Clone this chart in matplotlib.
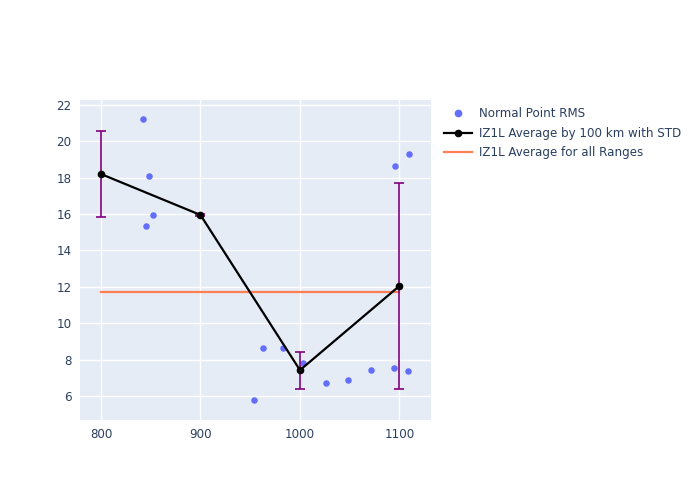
import matplotlib
matplotlib.use("Agg")
import matplotlib.pyplot as plt
from matplotlib.lines import Line2D

# normal point RMS values
pt_range = [842.2, 848.2, 852.3, 845.2, 953.8, 962.8, 982.9, 1003.0, 1026.1,
            1048.2, 1071.4, 1094.5, 1108.5, 1095.5, 1109.5]
pt_rms = [21.23, 18.10, 15.95, 15.35, 5.78, 8.64, 8.64, 7.82, 6.72,
          6.88, 7.43, 7.54, 7.38, 18.65, 19.31]

# averages by 100 km bin
avg_range = [800, 900, 1000, 1100]
avg_rms = [18.2, 15.95, 7.42, 12.05]
avg_std = [2.37, 0.05, 1.02, 5.65]

# overall average
all_range = [800, 1100]
all_avg = 11.72

text_col = "#2a3f5f"
fs = 8.6

fig = plt.figure(figsize=(7, 5), dpi=100)
ax = fig.add_axes([0.1143, 0.16, 0.5014, 0.64])
ax.set_facecolor("#E5ECF6")

ax.scatter(pt_range, pt_rms, s=22, color="#636EFA", linewidths=0, zorder=3)
ax.errorbar(avg_range, avg_rms, yerr=avg_std, fmt="none", ecolor="purple",
            elinewidth=1.2, capsize=3.5, capthick=1.2, zorder=4)
ax.plot(avg_range, avg_rms, color="black", lw=1.6, marker="o", ms=4.5, zorder=5)
ax.plot(all_range, [all_avg, all_avg], color="#FF7F50", lw=1.6, zorder=2)

ax.set_xlim(778.9, 1131.7)
ax.set_ylim(4.68, 22.27)
ax.set_xticks([800, 900, 1000, 1100])
ax.set_yticks(range(6, 23, 2))
ax.grid(color="white", lw=1)
ax.set_axisbelow(True)
for s in ax.spines.values():
    s.set_visible(False)
ax.tick_params(length=0, labelsize=fs, labelcolor=text_col, pad=6)

handles = [
    Line2D([], [], ls="none", marker="o", color="#636EFA", ms=4.5),
    Line2D([], [], color="black", lw=1.6, marker="o", ms=4.5),
    Line2D([], [], color="#FF7F50", lw=1.6),
]
labels = ["Normal Point RMS", "IZ1L Average by 100 km with STD",
          "IZ1L Average for all Ranges"]
fig.legend(handles, labels, loc="upper left", bbox_to_anchor=(0.628, 0.795),
           frameon=False, fontsize=fs, labelcolor=text_col, handlelength=2.3,
           handletextpad=0.6, labelspacing=0.55, borderaxespad=0)

fig.savefig("out.png", dpi=100)
